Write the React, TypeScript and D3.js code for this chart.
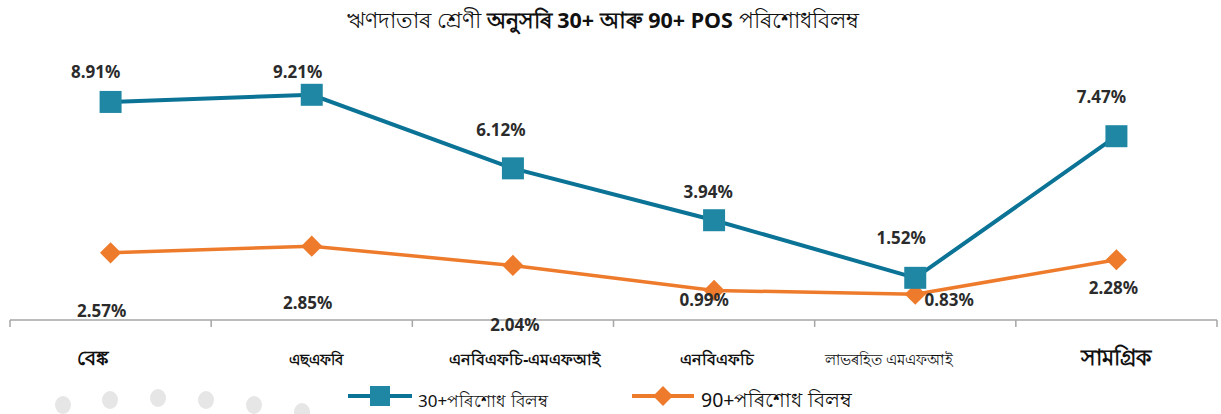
import * as d3 from "d3";

const categories = ["বেঙ্ক", "এছএফবি", "এনবিএফচি-এমএফআই", "এনবিএফচি", "লাভৰহিত  এমএফআই", "সামগ্ৰিক"];
const pos30 = [8.91, 9.21, 6.12, 3.94, 1.52, 7.47];
const pos90 = [2.57, 2.85, 2.04, 0.99, 0.83, 2.28];
const seriesNames = ["30+পৰিশোধ  বিলম্ব", "90+পৰিশোধ  বিলম্ব"];

// label nudges [dx, baseline dy] relative to the point
const off30 = [[-15, -24], [-14, -17], [-12, -32], [-6, -22], [-14, -34], [-15, -33]];
const off90 = [[-9, 64], [-4, 63], [2, 66], [-10, 16], [34, 12], [-3, 34]];
const catStyle = [
  { size: 20, weight: 700, dx: -18 },
  { size: 14.5, weight: 700, dx: 4 },
  { size: 16, weight: 700, dx: 12 },
  { size: 16, weight: 700, dx: 3 },
  { size: 15, weight: 400, dx: -26 },
  { size: 22, weight: 700, dx: 0 },
];

const W = 1221;
const H = 414;
const BLUE = "#0b7396";
const BLUE_M = "#1f87a3";
const ORANGE = "#ee7b2b";
const FONT = "'Noto Sans', 'Open Sans', sans-serif";

export default function App() {
  const x = d3.scaleBand<string>().domain(categories).range([10, 1217]);
  const y = d3.scaleLinear().domain([0, 10]).range([314, 76]);
  const cx = (i: number) => x(categories[i])! + x.bandwidth() / 2;
  const line = d3
    .line<number>()
    .x((_, i) => cx(i))
    .y((d) => y(d));
  const axisY = y(-0.25);
  const ticks = d3.range(categories.length + 1).map((i) => 10 + i * x.step());
  const dots = [
    [63, 405],
    [110, 400],
    [158, 398],
    [206, 400],
    [254, 405],
    [302, 412],
  ];

  return (
    <svg
      width={W}
      height={H}
      style={{ position: "absolute", left: 0, top: 0, background: "#fff" }}
      fontFamily={FONT}
    >
      {dots.map(([dx, dy], i) => (
        <ellipse key={i} cx={dx} cy={dy} rx={8} ry={9} fill="#e6e6e6" />
      ))}
      <text x={603} y={28} textAnchor="middle" fontSize={21.5} fill="#111">
        <tspan>ঋণদাতাৰ  শ্ৰেণী </tspan>
        <tspan fontWeight={700}>অনুসৰি 30+ আৰু 90+ POS</tspan>
        <tspan> পৰিশোধবিলম্ব</tspan>
      </text>

      <line x1={10} x2={1217} y1={axisY} y2={axisY} stroke="#a6a6a6" strokeWidth={1.5} />
      {ticks.map((t, i) => (
        <line key={i} x1={t} x2={t} y1={axisY} y2={axisY + 7} stroke="#a6a6a6" strokeWidth={1.5} />
      ))}
      {categories.map((c, i) => (
        <text
          key={c}
          x={cx(i) + catStyle[i].dx}
          y={365}
          textAnchor="middle"
          fontSize={catStyle[i].size}
          fontWeight={catStyle[i].weight}
          fill="#111"
        >
          {c}
        </text>
      ))}

      <path d={line(pos90)!} fill="none" stroke={ORANGE} strokeWidth={3.5} />
      <path d={line(pos30)!} fill="none" stroke={BLUE} strokeWidth={4} />
      {pos90.map((v, i) => (
        <rect
          key={i}
          x={cx(i) - 7.5}
          y={y(v) - 7.5}
          width={15}
          height={15}
          fill={ORANGE}
          transform={`rotate(45 ${cx(i)} ${y(v)})`}
        />
      ))}
      {pos30.map((v, i) => (
        <rect key={i} x={cx(i) - 11} y={y(v) - 11} width={22} height={22} fill={BLUE_M} />
      ))}

      {pos30.map((v, i) => (
        <text
          key={i}
          x={cx(i) + off30[i][0]}
          y={y(v) + off30[i][1]}
          textAnchor="middle"
          fontSize={17}
          fontWeight={700}
          fill="#2b2b2b"
        >
          {v.toFixed(2)}%
        </text>
      ))}
      {pos90.map((v, i) => (
        <text
          key={i}
          x={cx(i) + off90[i][0]}
          y={y(v) + off90[i][1]}
          textAnchor="middle"
          fontSize={17}
          fontWeight={700}
          fill="#2b2b2b"
        >
          {v.toFixed(2)}%
        </text>
      ))}

      <g transform="translate(348,396)">
        <line x1={0} x2={64} y1={0} y2={0} stroke={BLUE} strokeWidth={4} />
        <rect x={22} y={-10} width={20} height={20} fill={BLUE_M} />
        <text x={70} y={11} fontSize={17} fill="#111">
          {seriesNames[0]}
        </text>
      </g>
      <g transform="translate(632,396)">
        <line x1={0} x2={62} y1={0} y2={0} stroke={ORANGE} strokeWidth={4} />
        <rect x={24} y={-7} width={14} height={14} fill={ORANGE} transform="rotate(45 31 0)" />
        <text x={69} y={11} fontSize={19.5} fill="#111">
          {seriesNames[1]}
        </text>
      </g>
    </svg>
  );
}
